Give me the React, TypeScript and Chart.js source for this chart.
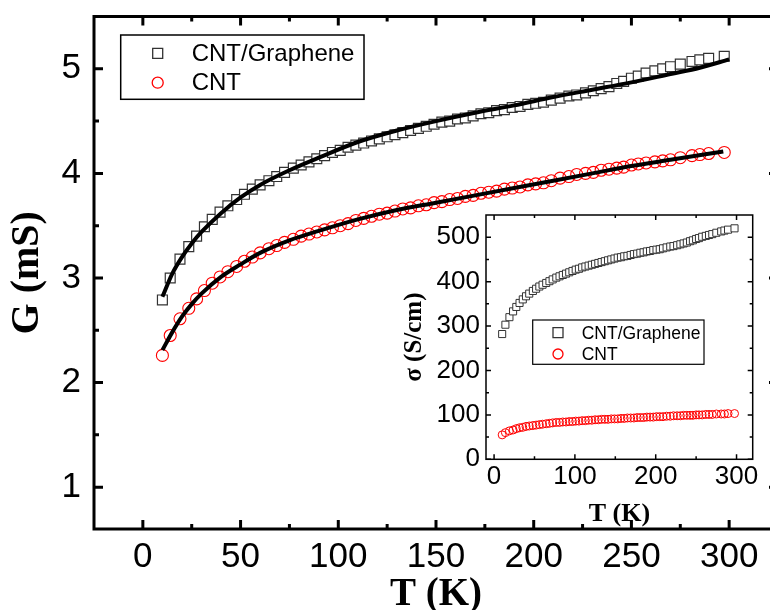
import React, { useEffect, useRef } from 'react';
import { Chart, registerables } from 'chart.js';

Chart.register(...registerables);

// ---------- data ----------
const T_K = [
  10, 14, 19, 23.5, 27.5, 31.5, 35.5, 39.5, 43.5, 48,
  52, 56, 60, 64.5, 68.5, 72.5, 77, 81, 85, 89,
  93, 97, 101, 105, 109, 113, 117, 121, 125, 129,
  133, 137, 141, 145, 149, 153, 157, 161, 165, 169,
  173, 177, 181, 185, 189, 193, 197, 201, 205, 209,
  213.5, 218, 222, 226.5, 230.5, 234.5, 238.5, 242.5, 246, 250,
  253.5, 257.5, 262, 266, 270, 275, 281, 285, 289.5, 297.5,
];

const G_CNT_GRAPHENE = [
  2.79, 3.0, 3.18, 3.3, 3.4, 3.49, 3.56, 3.63, 3.69, 3.75,
  3.8, 3.85, 3.89, 3.93, 3.97, 4.01, 4.05, 4.08, 4.11, 4.14,
  4.17, 4.2, 4.22, 4.25, 4.27, 4.29, 4.31, 4.33, 4.35, 4.37,
  4.39, 4.41, 4.43, 4.45, 4.47, 4.49, 4.5, 4.52, 4.53, 4.55,
  4.57, 4.58, 4.6, 4.61, 4.63, 4.64, 4.66, 4.67, 4.68, 4.7,
  4.72, 4.74, 4.75, 4.77, 4.79, 4.81, 4.83, 4.86, 4.88, 4.91,
  4.93, 4.96, 4.98, 5.0, 5.02, 5.045, 5.07, 5.085, 5.1, 5.12,
];

const G_CNT = [
  2.26, 2.45, 2.61, 2.71, 2.8, 2.88, 2.95, 3.01, 3.06, 3.11,
  3.16, 3.2, 3.24, 3.28, 3.31, 3.34, 3.37, 3.4, 3.42, 3.44,
  3.46, 3.48, 3.5, 3.52, 3.55, 3.57, 3.59, 3.61, 3.62, 3.64,
  3.66, 3.67, 3.69, 3.7, 3.72, 3.73, 3.75, 3.76, 3.78, 3.79,
  3.81, 3.82, 3.83, 3.85, 3.86, 3.87, 3.89, 3.9, 3.91, 3.93,
  3.955, 3.97, 3.99, 4.0, 4.01, 4.03, 4.04, 4.05, 4.06, 4.08,
  4.09, 4.1, 4.11, 4.12, 4.13, 4.15, 4.17, 4.18, 4.19, 4.2,
];

const FIT_T_GRAPHENE = [10, 15, 20, 25, 30, 40, 50, 60, 75, 90, 110, 130, 150, 170, 190, 210, 230, 250, 270, 285, 300];
const FIT_G_GRAPHENE = [2.82, 3.04, 3.2, 3.33, 3.44, 3.62, 3.77, 3.89, 4.03, 4.15, 4.3, 4.41, 4.5, 4.58, 4.65, 4.73, 4.8, 4.87, 4.95, 5.01, 5.09];

const FIT_T_CNT = [10, 15, 20, 25, 30, 40, 50, 60, 75, 90, 110, 130, 150, 170, 190, 210, 230, 250, 270, 297];
const FIT_G_CNT = [2.31, 2.48, 2.63, 2.75, 2.85, 3.01, 3.13, 3.24, 3.36, 3.45, 3.56, 3.65, 3.72, 3.79, 3.86, 3.93, 4.0, 4.07, 4.13, 4.21];

const SIGMA_CNT_GRAPHENE = [
  282, 303, 320, 333, 343, 352, 360, 367, 373, 379,
  384, 389, 393, 397, 401, 405, 409, 412, 415, 418,
  421, 424, 427, 429, 432, 434, 436, 438, 440, 442,
  444, 446, 448, 450, 452, 454, 455, 457, 458, 460,
  462, 463, 465, 466, 468, 469, 471, 472, 473, 475,
  477, 479, 480, 482, 484, 486, 488, 491, 493, 496,
  498, 501, 503, 505, 507, 510, 513, 515, 517, 520,
];

const SIGMA_CNT = [
  55, 60, 64, 66, 69, 71, 72, 74, 75, 76,
  77, 78, 79, 80, 81, 82, 83, 83, 84, 84,
  85, 85, 86, 86, 87, 87, 88, 88, 89, 89,
  90, 90, 90, 91, 91, 91, 92, 92, 93, 93,
  93, 94, 94, 94, 95, 95, 95, 96, 96, 96,
  97, 97, 98, 98, 98, 99, 99, 99, 99, 100,
  100, 100, 101, 101, 101, 102, 102, 102, 103, 103,
];

const MAIN_X_TICKS = [0, 50, 100, 150, 200, 250, 300];
const MAIN_X_MINOR = [25, 75, 125, 175, 225, 275];
const MAIN_Y_TICKS = [1, 2, 3, 4, 5];
const MAIN_Y_MINOR = [1.5, 2.5, 3.5, 4.5];

const INSET_X_TICKS = [0, 100, 200, 300];
const INSET_X_MINOR = [50, 150, 250];
const INSET_Y_TICKS = [0, 100, 200, 300, 400, 500];
const INSET_Y_MINOR = [50, 150, 250, 350, 450];

const LABEL_GRAPHENE = 'CNT/Graphene';
const LABEL_CNT = 'CNT';

// ---------- styles ----------
const SANS = '"Liberation Sans", Arial, sans-serif';
const SERIF = '"Liberation Serif", "Times New Roman", serif';

const pts = (xs: number[], ys: number[]) => xs.map((x, i) => ({ x, y: ys[i] }));

const fixWidth = (w: number) => (s: any) => {
  s.width = w;
  s.paddingTop = 0;
  s.paddingBottom = 0;
  s.paddingLeft = 0;
  s.paddingRight = 0;
};
const fixHeight = (h: number) => (s: any) => {
  s.height = h;
  s.paddingTop = 0;
  s.paddingBottom = 0;
  s.paddingLeft = 0;
  s.paddingRight = 0;
};

function framePlugin(cfg: any) {
  return {
    id: 'frameTicks',
    afterDatasetsDraw(chart: any) {
      const { ctx, chartArea: a, scales } = chart;
      const sx = scales.x;
      const sy = scales.y;
      ctx.save();
      ctx.strokeStyle = '#000';
      ctx.lineWidth = cfg.lw;
      ctx.lineCap = 'butt';
      ctx.beginPath();
      const drawX = (vals: number[], len: number) => {
        vals.forEach((v) => {
          const p = sx.getPixelForValue(v);
          ctx.moveTo(p, a.bottom);
          ctx.lineTo(p, a.bottom - len);
          ctx.moveTo(p, a.top);
          ctx.lineTo(p, a.top + len);
        });
      };
      const drawY = (vals: number[], len: number) => {
        vals.forEach((v) => {
          const p = sy.getPixelForValue(v);
          ctx.moveTo(a.left, p);
          ctx.lineTo(a.left + len, p);
          ctx.moveTo(a.right, p);
          ctx.lineTo(a.right - len, p);
        });
      };
      drawX(cfg.xMajor, cfg.major);
      drawX(cfg.xMinor, cfg.minor);
      drawY(cfg.yMajor, cfg.major);
      drawY(cfg.yMinor, cfg.minor);
      ctx.stroke();
      ctx.strokeRect(a.left, a.top, a.right - a.left, a.bottom - a.top);
      ctx.restore();
    },
  };
}

function boxLegendPlugin(cfg: any) {
  return {
    id: 'boxLegend',
    afterDatasetsDraw(chart: any) {
      const { ctx } = chart;
      ctx.save();
      ctx.fillStyle = '#fff';
      ctx.fillRect(cfg.x, cfg.y, cfg.w, cfg.h);
      ctx.strokeStyle = '#000';
      ctx.lineWidth = cfg.lw;
      ctx.strokeRect(cfg.x, cfg.y, cfg.w, cfg.h);
      cfg.entries.forEach((e: any) => {
        const ds = chart.data.datasets[e.ds];
        ctx.strokeStyle = ds.borderColor;
        ctx.lineWidth = 1.3;
        ctx.beginPath();
        if (ds.pointStyle === 'rect') {
          ctx.rect(cfg.mx - cfg.sq / 2, e.y - cfg.sq / 2, cfg.sq, cfg.sq);
        } else {
          ctx.arc(cfg.mx, e.y, cfg.r, 0, Math.PI * 2);
        }
        ctx.stroke();
        ctx.fillStyle = '#000';
        ctx.font = `${cfg.fontSize}px ${SANS}`;
        ctx.textBaseline = 'middle';
        ctx.textAlign = 'left';
        ctx.fillText(ds.label, cfg.tx, e.y + 1);
      });
      ctx.restore();
    },
  };
}

export default function App() {
  const mainRef = useRef<HTMLCanvasElement>(null);
  const insetRef = useRef<HTMLCanvasElement>(null);

  useEffect(() => {
    const main = new Chart(mainRef.current as HTMLCanvasElement, {
      type: 'scatter',
      data: {
        datasets: [
          {
            label: 'fit CNT/Graphene',
            data: pts(FIT_T_GRAPHENE, FIT_G_GRAPHENE),
            showLine: true,
            borderColor: '#000',
            borderWidth: 4,
            pointRadius: 0,
            cubicInterpolationMode: 'monotone',
            order: 0,
          } as any,
          {
            label: 'fit CNT',
            data: pts(FIT_T_CNT, FIT_G_CNT),
            showLine: true,
            borderColor: '#000',
            borderWidth: 4,
            pointRadius: 0,
            cubicInterpolationMode: 'monotone',
            order: 0,
          } as any,
          {
            label: LABEL_GRAPHENE,
            data: pts(T_K, G_CNT_GRAPHENE),
            pointStyle: 'rect',
            pointRadius: 7,
            borderColor: '#333',
            backgroundColor: '#fff',
            borderWidth: 1.2,
            pointBorderWidth: 1.2,
            order: 1,
          } as any,
          {
            label: LABEL_CNT,
            data: pts(T_K, G_CNT),
            pointStyle: 'circle',
            pointRadius: 6,
            borderColor: '#ff0000',
            backgroundColor: 'rgba(0,0,0,0)',
            borderWidth: 1.1,
            pointBorderWidth: 1.1,
            order: 1,
          } as any,
        ],
      },
      options: {
        responsive: false,
        animation: false,
        devicePixelRatio: 1,
        events: [],
        layout: { padding: { top: 16.5, right: 12, left: 0, bottom: 0 } },
        plugins: { legend: { display: false }, tooltip: { enabled: false } },
        scales: {
          x: {
            type: 'linear',
            min: -25,
            max: 325,
            afterBuildTicks: (s: any) => {
              s.ticks = MAIN_X_TICKS.map((v) => ({ value: v }));
            },
            afterFit: fixHeight(81),
            grid: { display: false, drawTicks: false },
            border: { display: false },
            ticks: {
              color: '#000',
              font: { family: SANS, size: 35 },
              padding: 7,
              maxRotation: 0,
              autoSkip: false,
              callback: (v: any) => String(v),
            },
            title: {
              display: true,
              text: 'T (K)',
              color: '#000',
              font: { family: SERIF, size: 39, weight: 'bold', lineHeight: 0.77 },
              padding: 0,
            },
          },
          y: {
            type: 'linear',
            min: 0.6,
            max: 5.5,
            afterBuildTicks: (s: any) => {
              s.ticks = MAIN_Y_TICKS.map((v) => ({ value: v }));
            },
            afterFit: fixWidth(94),
            grid: { display: false, drawTicks: false },
            border: { display: false },
            ticks: {
              color: '#000',
              font: { family: SANS, size: 35 },
              padding: 13,
              autoSkip: false,
              callback: (v: any) => String(v),
            },
            title: {
              display: true,
              text: 'G (mS)',
              color: '#000',
              font: { family: SERIF, size: 40, weight: 'bold', lineHeight: 1.2 },
              padding: { top: 4, bottom: 0 },
            },
          },
        },
      } as any,
      plugins: [
        framePlugin({ lw: 3, major: 9, minor: 5, xMajor: MAIN_X_TICKS, xMinor: MAIN_X_MINOR, yMajor: MAIN_Y_TICKS, yMinor: MAIN_Y_MINOR }),
        boxLegendPlugin({
          x: 120.7, y: 35, w: 243.3, h: 64.3, lw: 1.5,
          mx: 157.7, tx: 191.7, sq: 10, r: 5.5, fontSize: 24,
          entries: [{ ds: 2, y: 53.3 }, { ds: 3, y: 82.7 }],
        }),
      ],
    });

    const inset = new Chart(insetRef.current as HTMLCanvasElement, {
      type: 'scatter',
      data: {
        datasets: [
          {
            label: LABEL_GRAPHENE,
            data: pts(T_K, SIGMA_CNT_GRAPHENE),
            pointStyle: 'rect',
            pointRadius: 5,
            borderColor: '#333',
            backgroundColor: '#fff',
            borderWidth: 1,
            pointBorderWidth: 1,
          } as any,
          {
            label: LABEL_CNT,
            data: pts(T_K, SIGMA_CNT),
            pointStyle: 'circle',
            pointRadius: 4,
            borderColor: '#ff0000',
            backgroundColor: 'rgba(0,0,0,0)',
            borderWidth: 1,
            pointBorderWidth: 1,
          } as any,
        ],
      },
      options: {
        responsive: false,
        animation: false,
        devicePixelRatio: 1,
        events: [],
        layout: { padding: { top: 15, right: 17.3, left: 0, bottom: 0 } },
        plugins: { legend: { display: false }, tooltip: { enabled: false } },
        scales: {
          x: {
            type: 'linear',
            min: -10,
            max: 320,
            afterBuildTicks: (s: any) => {
              s.ticks = INSET_X_TICKS.map((v) => ({ value: v }));
            },
            afterFit: fixHeight(70.7),
            grid: { display: false, drawTicks: false },
            border: { display: false },
            ticks: {
              color: '#000',
              font: { family: SANS, size: 26 },
              padding: 2,
              maxRotation: 0,
              autoSkip: false,
              callback: (v: any) => String(v),
            },
            title: {
              display: true,
              text: 'T (K)',
              color: '#000',
              font: { family: SERIF, size: 26, weight: 'bold', lineHeight: 1.2 },
              padding: { top: 12, bottom: 0 },
            },
          },
          y: {
            type: 'linear',
            min: 0,
            max: 550,
            afterBuildTicks: (s: any) => {
              s.ticks = INSET_Y_TICKS.map((v) => ({ value: v }));
            },
            afterFit: fixWidth(106),
            grid: { display: false, drawTicks: false },
            border: { display: false },
            ticks: {
              color: '#000',
              font: { family: SANS, size: 26 },
              padding: 6,
              autoSkip: false,
              callback: (v: any) => String(v),
            },
            title: {
              display: true,
              text: 'σ (S/cm)',
              color: '#000',
              font: { family: SERIF, size: 25, weight: 'bold', lineHeight: 1.2 },
              padding: { top: 20, bottom: 0 },
            },
          },
        },
      } as any,
      plugins: [
        framePlugin({ lw: 1.5, major: 5, minor: 3, xMajor: INSET_X_TICKS, xMinor: INSET_X_MINOR, yMajor: INSET_Y_TICKS, yMinor: INSET_Y_MINOR }),
        boxLegendPlugin({
          x: 152.7, y: 120, w: 171.3, h: 44.3, lw: 1.2,
          mx: 178, tx: 201.7, sq: 10, r: 5, fontSize: 17.5,
          entries: [{ ds: 0, y: 132.7 }, { ds: 1, y: 154 }],
        }),
      ],
    });

    return () => {
      main.destroy();
      inset.destroy();
    };
  }, []);

  return (
    <div
      style={{
        position: 'absolute',
        left: 0,
        top: 0,
        width: 770,
        height: 610,
        overflow: 'hidden',
        background: '#fff',
      }}
    >
      <canvas
        ref={mainRef}
        width={790}
        height={610}
        style={{ position: 'absolute', left: 0, top: 0, width: 790, height: 610 }}
      />
      <canvas
        ref={insetRef}
        width={390}
        height={330}
        style={{ position: 'absolute', left: 380, top: 200, width: 390, height: 330 }}
      />
    </div>
  );
}
